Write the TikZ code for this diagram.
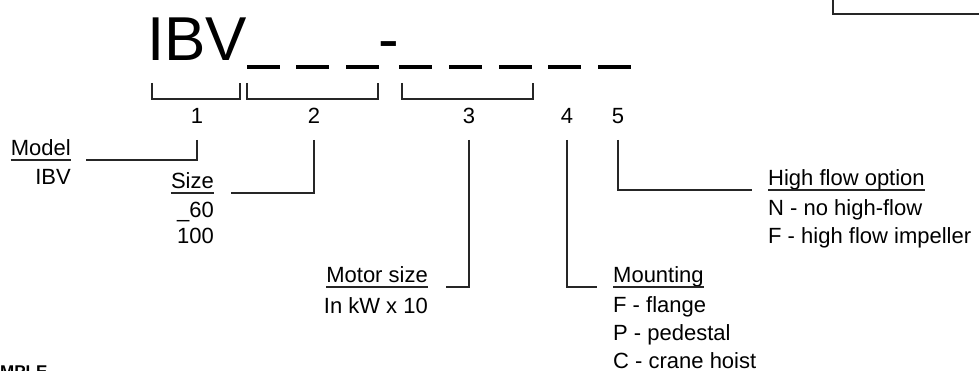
\documentclass[tikz,border=0pt]{standalone}
\usepackage{fontspec}
\setmainfont{Liberation Sans}
\usetikzlibrary{positioning}

\begin{document}
\begin{tikzpicture}[x=1pt, y=-1pt, lab/.style={inner sep=0pt, font=\fontsize{22}{28}\selectfont}, big/.style={inner sep=0pt, font=\fontsize{62}{70}\selectfont}, lead/.style={line width=1.1pt, black!85}]
        \useasboundingbox (0,0) rectangle (979,371);
        \def\dashlen{33}
        \def\brtop{83}
        \def\brbot{99}

        % code line
        \node[big, anchor=base west] (code) at (147,61) {IBV};
        \node[big, anchor=base] (hyph) at (389,61) {-};
        \foreach \x in {247,296,346,399,449,499,548,598}
            \draw[line width=4pt] (\x,67) -- ++(\dashlen,0);

        \draw[lead] (152,\brtop) |- (240,\brbot) -- (240,\brtop);
        \draw[lead] (247,\brtop) |- (378,\brbot) -- (378,\brtop);
        \draw[lead] (402,\brtop) |- (533,\brbot) -- (533,\brtop);

        \node[lab] (n1) at (197,116) {1};
        \node[lab] (n2) at (314,116) {2};
        \node[lab] (n3) at (469,116) {3};
        \node[lab] (n4) at (567,116) {4};
        \node[lab] (n5) at (618,116) {5};

        % titles
        \node[lab, anchor=base east] (model) at (71,156) {Model};
        \node[lab, anchor=base east] (size) at (214,189) {Size};
        \node[lab, anchor=base east] (motor) at (428,283) {Motor size};
        \node[lab, anchor=base west] (mount) at (613,283) {Mounting};
        \node[lab, anchor=base west] (flow) at (768,186) {High flow option};
        \foreach \t in {model,size,motor,mount,flow}
            \draw[lead] ([yshift=-4pt]\t.base west) -- ([yshift=-4pt]\t.base east);

        \node[lab, align=right, below left=13pt and 0pt of model.base east] (modelv) {IBV};
        \node[lab, align=right, below left=13pt and 0pt of size.base east] (sizev) {\_60\\[-2pt]100};
        \node[lab, align=right, below left=14pt and 0pt of motor.base east] (motorv) {In kW x 10};
        \node[lab, align=left, below right=13pt and 0pt of mount.base west] (mountv) {F - flange\\P - pedestal\\C - crane hoist};
        \node[lab, align=left, below right=13pt and 0pt of flow.base west] (flowv) {N - no high-flow\\F - high flow impeller};

        % leaders
        \draw[lead] ([yshift=-16pt]n1.south) |- ([xshift=15pt,yshift=-4pt]model.base east);
        \draw[lead] ([yshift=-16pt]n2.south) |- ([xshift=17pt,yshift=-4pt]size.base east);
        \draw[lead] ([yshift=-16pt]n3.south) |- ([xshift=18pt,yshift=-4pt]motor.base east);
        \draw[lead] ([yshift=-16pt]n4.south) |- ([xshift=-16pt,yshift=-4pt]mount.base west);
        \draw[lead] ([yshift=-16pt]n5.south) |- ([xshift=-16pt,yshift=-4pt]flow.base west);

        \draw[lead] (833,0) |- (979,14);
        \node[inner sep=0pt, anchor=north west, font=\fontsize{17}{20}\selectfont\bfseries] (tag) at (0,366) {MPLE};
\end{tikzpicture}
\end{document}
